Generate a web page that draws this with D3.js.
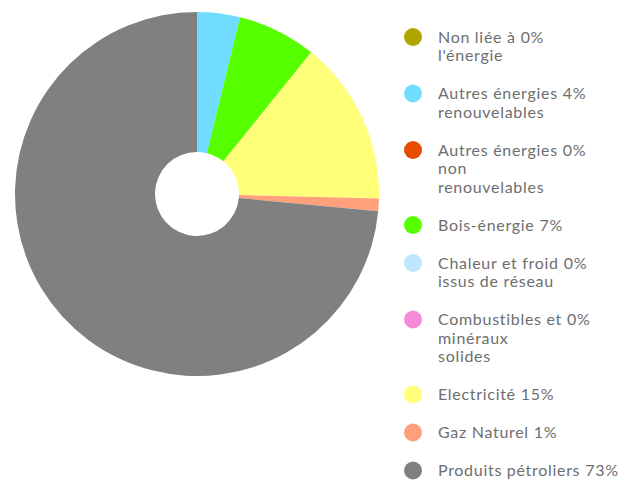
<!DOCTYPE html>
<html>
<head>
<meta charset="utf-8">
<script src="https://cdn.jsdelivr.net/npm/d3@7"></script>
<style>
  body { margin: 0; background: #fff; }
  text { font-family: Lato, "Open Sans", sans-serif; }
</style>
</head>
<body>
<div id="chart"></div>
<script>
// categories (line breaks as in the legend)
let categories = [
  ["Non liée à", "l'énergie"],
  ["Autres énergies", "renouvelables"],
  ["Autres énergies", "non", "renouvelables"],
  ["Bois-énergie"],
  ["Chaleur et froid", "issus de réseau"],
  ["Combustibles et", "minéraux", "solides"],
  ["Electricité"],
  ["Gaz Naturel"],
  ["Produits pétroliers"]
];
let shares = [0, 3.8, 0, 7.0, 0, 0, 14.6, 1.1, 73.5];
let pct_labels = ["0%", "4%", "0%", "7%", "0%", "0%", "15%", "1%", "73%"];
let colors = ["#ada600", "#70dcff", "#e84c00", "#55ff00", "#bfe6ff",
              "#f78ad8", "#ffff7a", "#ffa07a", "#808080"];

let width = 636, height = 482;

let svg = d3.select("#chart")
            .append("svg")
            .attr("width", width)
            .attr("height", height);

// Pie area
let cx = 197, cy = 194;
let outer = 182, inner = 42;

let pie = d3.pie().sort(null).value(function(d) { return d; });
let arc = d3.arc().innerRadius(inner).outerRadius(outer);

let g = svg.append("g")
           .attr("transform", "translate(" + cx + "," + cy + ")");

g.selectAll("path")
 .data(pie(shares))
 .enter()
 .append("path")
 .attr("d", arc)
 .attr("fill", function(d, i) { return colors[i]; });

// Legend
let lx = 413, ly = 37;
let row_gap = 38, line_h = 18.5;

let y = ly;
categories.forEach(function(lines, i) {
  let row = svg.append("g").attr("transform", "translate(0," + y + ")");

  row.append("circle")
     .attr("cx", lx)
     .attr("cy", 0)
     .attr("r", 9)
     .attr("fill", colors[i]);

  let first_w = 0;
  lines.forEach(function(line, j) {
    let t = row.append("text")
               .attr("x", lx + 25)
               .attr("y", 5.5 + j*line_h)
               .attr("fill", "#6e6e6e")
               .attr("font-size", 16)
               .attr("letter-spacing", 0.7)
               .text(line);
    if (j === 0) first_w = t.node().getComputedTextLength();
  });

  row.append("text")
     .attr("x", lx + 25 + first_w + 5)
     .attr("y", 5.5)
     .attr("fill", "#6e6e6e")
     .attr("font-size", 16)
     .attr("letter-spacing", 0.7)
     .text(pct_labels[i]);

  y += row_gap + line_h*(lines.length - 1);
});
</script>
</body>
</html>
